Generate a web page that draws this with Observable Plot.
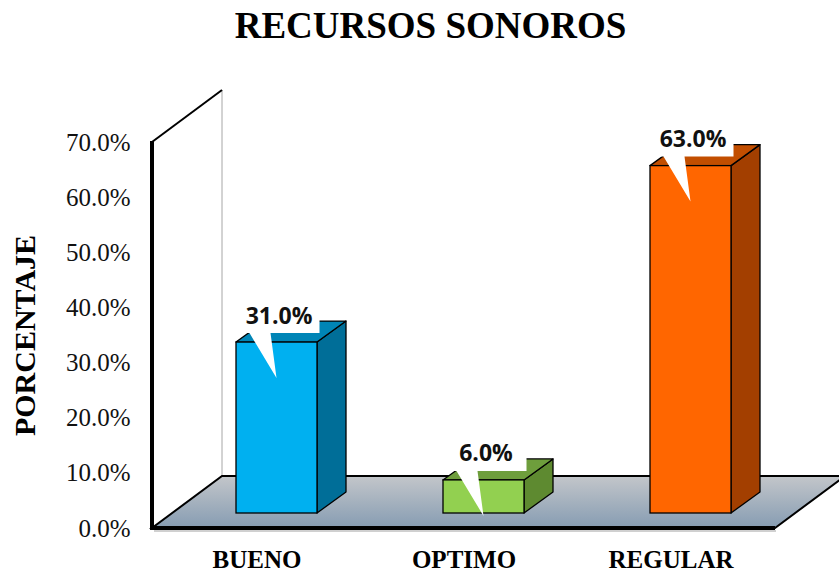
<!DOCTYPE html>
<html>
<head>
<meta charset="utf-8">
<script src="https://cdn.jsdelivr.net/npm/d3@7"></script>
<script src="https://cdn.jsdelivr.net/npm/@observablehq/plot@0.6"></script>
<style>
  html, body { margin: 0; padding: 0; background: #fff; }
  #wrap { position: relative; width: 839px; height: 573px; overflow: hidden; }
  #title { position: absolute; left: 11px; width: 839px; top: 7px; text-align: center;
           font: 700 37px "Liberation Serif", "Times New Roman", serif; line-height: 37px; color: #000; }
  #chart { position: absolute; left: 0; top: 70px; }
</style>
</head>
<body>
<div id="wrap">
  <div id="title">RECURSOS SONOROS</div>
  <div id="chart"></div>
</div>
<script>
// ---- data ----
const categories = ["BUENO", "OPTIMO", "REGULAR"];
const values = [31.0, 6.0, 63.0];
const yTicks = [0, 10, 20, 30, 40, 50, 60, 70];
const frontColors = ["#00B0F0", "#92D050", "#FF6600"];
const sideColors = ["#006E98", "#5E8A30", "#A33F00"];
const topColors = ["#0085B6", "#6E9E3C", "#C24E00"];
const yLabel = "PORCENTAJE";

const rows = categories.map((c, i) => ({cat: c, value: values[i], i}));

// ---- styling (pixels) ----
const W = 839, H = 503, ML = 152, MR = 64, MT = 72, MB = 45;
const DEPTH = [70, -52];     // floor/wall depth vector
const BAR_OFF = [20, -15];   // bar front face offset into depth
const BAR_D = [29, -21];     // bar depth
const INSET = 63;            // bar inset within band

function bandwidth(scales, dim) {
  return (scales.x && scales.x.bandwidth) ? scales.x.bandwidth()
    : (dim.width - dim.marginLeft - dim.marginRight) / categories.length;
}

// wall and floor
function sceneRender(index, scales, vals, dim) {
  const g = d3.create("svg:g");
  const x0 = dim.marginLeft, x1 = dim.width - dim.marginRight;
  const y0 = scales.y(0), yT = scales.y(yTicks[yTicks.length - 1]);
  const [dx, dy] = DEPTH;
  const defs = g.append("defs");
  const grad = defs.append("linearGradient").attr("id", "floorGrad")
    .attr("x1", 0).attr("y1", 0).attr("x2", 0).attr("y2", 1);
  grad.append("stop").attr("offset", "0%").attr("stop-color", "#c3c6ca");
  grad.append("stop").attr("offset", "100%").attr("stop-color", "#869cb2");
  // wall
  g.append("path").attr("d", `M${x0},${y0}L${x0},${yT}L${x0+dx},${yT+dy}L${x0+dx},${y0+dy}Z`).attr("fill", "#fff");
  g.append("line").attr("x1", x0+dx).attr("y1", yT+dy).attr("x2", x0+dx).attr("y2", y0+dy)
    .attr("stroke", "#a6a6a6").attr("stroke-width", 1);
  g.append("line").attr("x1", x0).attr("y1", yT).attr("x2", x0+dx).attr("y2", yT+dy)
    .attr("stroke", "#000").attr("stroke-width", 2);
  // floor
  g.append("path").attr("d", `M${x0},${y0}L${x1},${y0}L${x1+dx},${y0+dy}L${x0+dx},${y0+dy}Z`)
    .attr("fill", "url(#floorGrad)").attr("stroke", "#000").attr("stroke-width", 2).attr("stroke-linejoin", "miter");
  // shadow + thick front edges
  g.append("line").attr("x1", x0+2).attr("y1", y0+3).attr("x2", x1+1).attr("y2", y0+3)
    .attr("stroke", "#d0d0d0").attr("stroke-width", 2);
  g.append("line").attr("x1", x0).attr("y1", y0).attr("x2", x1).attr("y2", y0)
    .attr("stroke", "#000").attr("stroke-width", 4);
  g.append("line").attr("x1", x0).attr("y1", yT - 1).attr("x2", x0).attr("y2", y0 + 2)
    .attr("stroke", "#000").attr("stroke-width", 4);
  return g.node();
}

// bar side + top faces
function prismRender(index, scales, vals, dim, ctx, next) {
  const front = next(index, scales, vals, dim, ctx);
  const g = d3.create("svg:g");
  const bw = bandwidth(scales, dim);
  const [ddx, ddy] = BAR_D;
  for (const i of index) {
    const d = rows[i];
    const xl = scales.x(d.cat) + INSET + BAR_OFF[0];
    const xr = scales.x(d.cat) + bw - INSET + BAR_OFF[0];
    const yt = scales.y(d.value) + BAR_OFF[1];
    const yb = scales.y(0) + BAR_OFF[1];
    g.append("path").attr("d", `M${xr},${yt}L${xr+ddx},${yt+ddy}L${xr+ddx},${yb+ddy}L${xr},${yb}Z`)
      .attr("fill", sideColors[d.i]).attr("stroke", "#000").attr("stroke-width", 1.3).attr("stroke-linejoin", "round");
    g.append("path").attr("d", `M${xl},${yt}L${xl+ddx},${yt+ddy}L${xr+ddx},${yt+ddy}L${xr},${yt}Z`)
      .attr("fill", topColors[d.i]).attr("stroke", "#000").attr("stroke-width", 1.3).attr("stroke-linejoin", "round");
  }
  g.append(() => front);
  return g.node();
}

// callout boxes behind labels
function calloutRender(index, scales, vals, dim, ctx, next) {
  const txt = next(index, scales, vals, dim, ctx);
  const g = d3.create("svg:g");
  const bw = bandwidth(scales, dim);
  for (const i of index) {
    const d = rows[i];
    const xc = scales.x(d.cat) + bw / 2 + 22;
    const yb = scales.y(d.value) + BAR_OFF[1] - 19;
    g.append("path")
      .attr("d", `M${xc-36},${yb-28}L${xc+41},${yb-28}L${xc+41},${yb+10}L${xc-8},${yb+10}L${xc-2},${yb+55}L${xc-29},${yb+10}L${xc-36},${yb+10}Z`)
      .attr("fill", "#fff");
  }
  g.append(() => txt);
  return g.node();
}

const plot = Plot.plot({
  width: W, height: H,
  marginLeft: ML, marginRight: MR, marginTop: MT, marginBottom: MB,
  style: {background: "transparent", overflow: "visible"},
  x: {domain: categories, padding: 0},
  y: {domain: [0, 70]},
  marks: [
    Plot.ruleY([0], {stroke: "none", render: sceneRender}),
    Plot.axisY({ticks: yTicks, tickSize: 0, tickPadding: 22, label: null,
      tickFormat: d => d.toFixed(1) + "%", fontSize: 25, fontFamily: "Liberation Serif", fill: "#111"}),
    Plot.axisX({tickSize: 0, tickPadding: 22, label: null, fontSize: 25, fontWeight: 700,
      fontFamily: "Liberation Serif", fill: "#000"}),
    Plot.text([yLabel], {frameAnchor: "left", rotate: -90, dx: -127, text: d => d,
      textAnchor: "middle", fontSize: 30, fontWeight: 700, fontFamily: "Liberation Serif", fill: "#000"}),
    Plot.barY(rows, {x: "cat", y: "value", fill: (d) => frontColors[d.i], stroke: "#000", strokeWidth: 1.3,
      insetLeft: INSET, insetRight: INSET, dx: BAR_OFF[0], dy: BAR_OFF[1], render: prismRender}),
    Plot.text(rows, {x: "cat", y: "value", text: d => d.value.toFixed(1) + "%",
      dx: 22, dy: BAR_OFF[1] - 19, lineAnchor: "bottom", textAnchor: "middle",
      fontSize: 23, fontWeight: 700, fontFamily: "Open Sans", fill: "#111", render: calloutRender})
  ]
});
document.getElementById("chart").appendChild(plot);
</script>
</body>
</html>
